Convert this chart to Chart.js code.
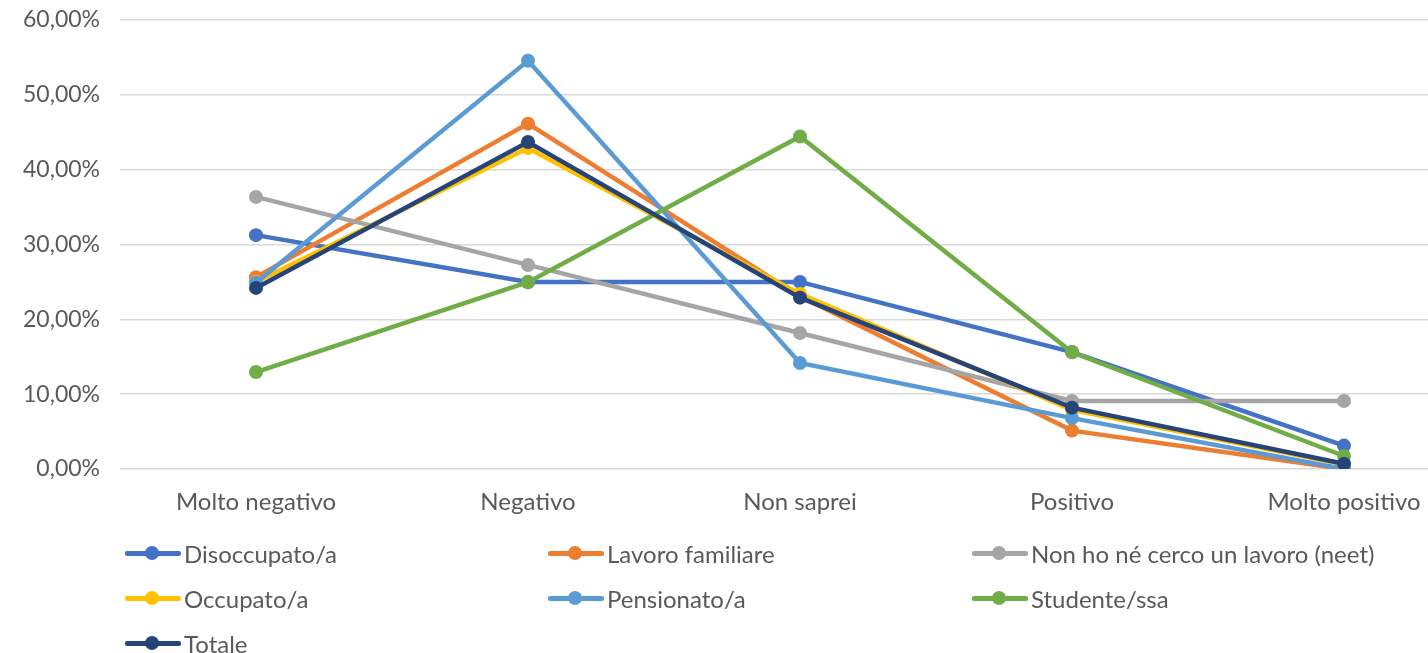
<!DOCTYPE html>
<html><head><meta charset="utf-8">
<script src="https://cdn.jsdelivr.net/npm/chart.js@4/dist/chart.umd.min.js"></script>
<style>
html,body{margin:0;padding:0;background:#fff;width:1428px;height:653px;overflow:hidden;}
#wrap{position:absolute;left:0;top:0;width:1487px;height:653px;}
#legend{position:absolute;left:0;top:0;width:1428px;height:653px;pointer-events:none;font-family:Lato,sans-serif;font-size:24px;color:#595959;}
.item{position:absolute;height:30px;display:flex;align-items:center;white-space:nowrap;}
.mk{position:relative;width:56px;height:30px;margin-right:3px;}
.mk .ln{position:absolute;left:0;top:12.5px;width:56px;height:5px;border-radius:2px;}
.mk .dt{position:absolute;left:20px;top:8px;width:14px;height:14px;border-radius:50%;}
</style></head>
<body>
<div id="wrap"><canvas id="c" width="1487" height="653"></canvas></div>
<div id="legend"></div>
<script>
const categories = ["Molto negativo","Negativo","Non saprei","Positivo","Molto positivo"];
const seriesNames = ["Disoccupato/a","Lavoro familiare","Non ho né cerco un lavoro (neet)","Occupato/a","Pensionato/a","Studente/ssa","Totale"];
const disoccupato = [31.25, 25.00, 25.00, 15.63, 3.13];
const lavoroFamiliare = [25.64, 46.15, 23.08, 5.13, 0.00];
const neet = [36.36, 27.27, 18.18, 9.09, 9.09];
const occupato = [25.00, 42.90, 23.40, 7.90, 0.60];
const pensionato = [24.90, 54.55, 14.17, 6.80, 0.00];
const studente = [12.96, 24.96, 44.44, 15.60, 1.74];
const totale = [24.20, 43.70, 22.90, 8.20, 0.70];
const yTicks = [0, 10, 20, 30, 40, 50, 60];
const colors = ["#4472C4","#ED7D31","#A5A5A5","#FFC000","#5B9BD5","#70AD47","#264478"];
const values = [disoccupato, lavoroFamiliare, neet, occupato, pensionato, studente, totale];

const datasets = seriesNames.map((n,i)=>({
  label:n, data:values[i], borderColor:colors[i], backgroundColor:colors[i],
  borderWidth:4.5, pointRadius:7, pointHoverRadius:7, pointBorderWidth:0,
  tension:0, order: seriesNames.length - i
}));

Chart.defaults.font.family = "Lato, sans-serif";
Chart.defaults.font.size = 23;
Chart.defaults.color = "#595959";

new Chart(document.getElementById('c'), {
  type:'line',
  data:{labels:categories, datasets},
  options:{
    responsive:false, animation:false,
    layout:{padding:{top:20,bottom:139,left:0,right:0}},
    plugins:{legend:{display:false}, tooltip:{enabled:false}},
    scales:{
      x:{offset:true, grid:{display:false, drawTicks:false}, border:{display:false},
         ticks:{padding:19, color:"#595959", autoSkip:false, maxRotation:0, font:{size:24}},
         afterFit:(s)=>{s.height=45; s.paddingLeft=0; s.paddingRight=0;}},
      y:{min:0,max:60, grid:{color:"#d9d9d9", lineWidth:1.5, drawTicks:false}, border:{display:false},
         afterBuildTicks:(s)=>{s.ticks = yTicks.map(v=>({value:v}));},
         ticks:{padding:20, color:"#595959", font:{size:23},
           callback:(v)=>v.toFixed(2).replace('.',',')+'%'},
         afterFit:(s)=>{s.width=120; s.paddingTop=0; s.paddingBottom=0;}}
    }
  }
});

const leg = document.getElementById('legend');
const cols=[125,548,972], rows=[553,598,643];
seriesNames.forEach((n,i)=>{
  const d=document.createElement('div'); d.className='item';
  d.style.left=cols[i%3]+'px'; d.style.top=(rows[Math.floor(i/3)]-15)+'px';
  d.innerHTML='<span class="mk"><span class="ln" style="background:'+colors[i]+'"></span><span class="dt" style="background:'+colors[i]+'"></span></span><span>'+n+'</span>';
  leg.appendChild(d);
});
</script>
</body></html>
